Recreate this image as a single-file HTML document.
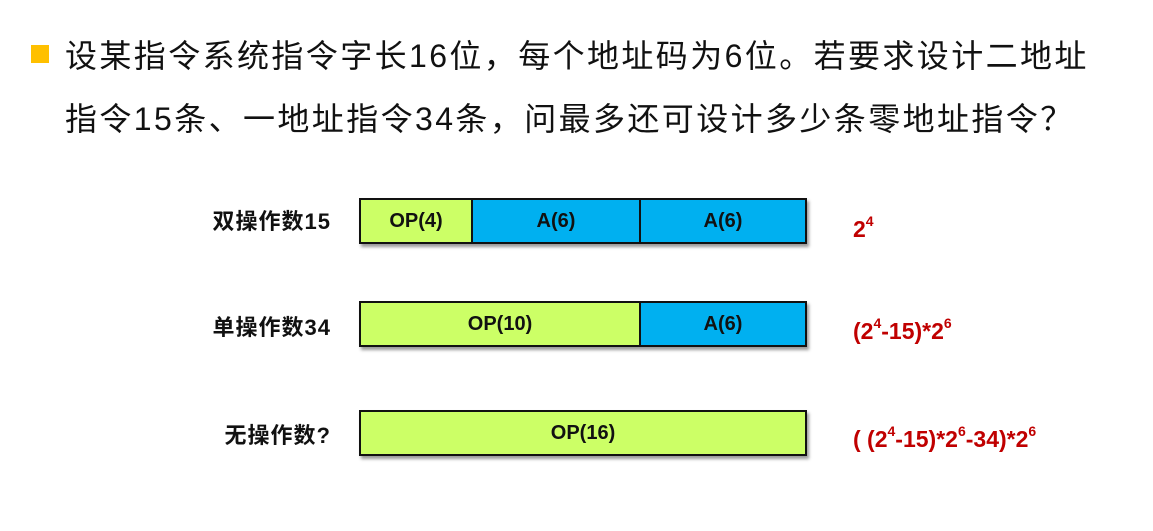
<!DOCTYPE html>
<html><head><meta charset="utf-8"><style>
body{margin:0;width:1153px;height:531px;background:#fff;position:relative;overflow:hidden;font-family:"Liberation Sans","Noto Sans CJK SC",sans-serif}
.t{position:absolute;left:65px;font-size:32px;letter-spacing:2.4px;color:#111;white-space:nowrap;line-height:40px}
.bul{position:absolute;left:31px;top:45px;width:18px;height:18px;background:#ffc000}
.lab{position:absolute;right:822px;font-size:22px;letter-spacing:1px;font-weight:bold;color:#111;white-space:nowrap;line-height:26px}
.box{position:absolute;left:359px;width:444px;height:42px;border:2px solid #111;display:flex;box-shadow:2px 3px 3px #999}
.c{height:100%;display:flex;align-items:center;justify-content:center;font-weight:bold;font-size:20px;color:#111;box-sizing:border-box}
.g{background:#ccff66}.b{background:#00b0f0}
.bl{border-left:2px solid #111}
.f{position:absolute;left:853px;font-size:23px;font-weight:bold;color:#c00000;white-space:nowrap;line-height:26px}
.f sup{font-size:14px;vertical-align:11px;line-height:0}
</style></head><body>
<div class="bul"></div>
<div class="t" style="top:36px">设某指令系统指令字长16位，每个地址码为6位。若要求设计二地址</div>
<div class="t" style="top:99px">指令15条、一地址指令34条，问最多还可设计多少条零地址指令？</div>

<div class="lab" style="top:209px">双操作数15</div>
<div class="box" style="top:198px"><div class="c g" style="width:110px">OP(4)</div><div class="c b bl" style="width:168px">A(6)</div><div class="c b bl" style="width:166px">A(6)</div></div>
<div class="f" style="top:216px">2<sup>4</sup></div>

<div class="lab" style="top:315px">单操作数34</div>
<div class="box" style="top:301px"><div class="c g" style="width:278px">OP(10)</div><div class="c b bl" style="width:166px">A(6)</div></div>
<div class="f" style="top:318px">(2<sup>4</sup>-15)*2<sup>6</sup></div>

<div class="lab" style="top:423px">无操作数?</div>
<div class="box" style="top:410px"><div class="c g" style="width:444px">OP(16)</div></div>
<div class="f" style="top:426px">( (2<sup>4</sup>-15)*2<sup>6</sup>-34)*2<sup>6</sup></div>
</body></html>
